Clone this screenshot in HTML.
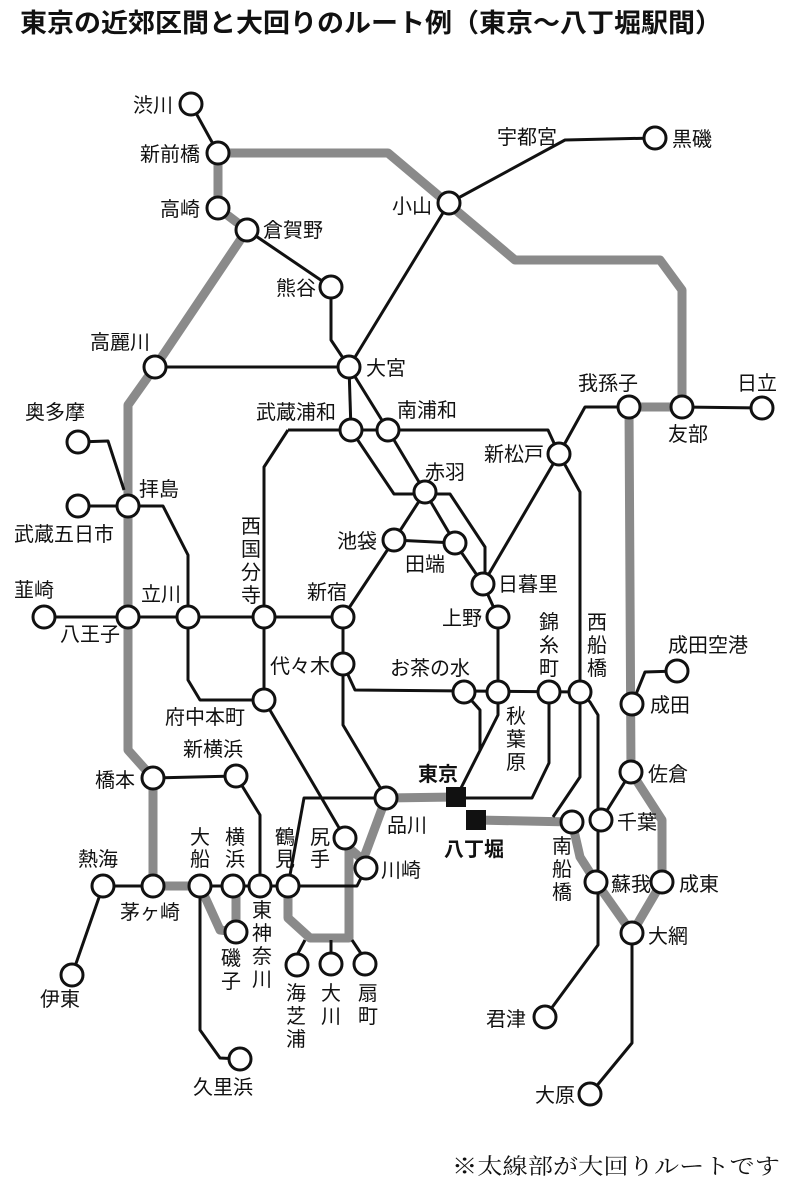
<!DOCTYPE html>
<html><head><meta charset="utf-8"><style>
html,body{margin:0;padding:0;background:#fff;}
svg{display:block;}
text{font-family:"Liberation Sans","Noto Sans CJK JP",sans-serif;font-size:20px;fill:#111;}
.t{font-weight:bold;font-size:26px;}
.f{font-family:"Liberation Serif","Noto Serif CJK SC",serif;font-size:22px;}
.b{font-weight:bold;}
.g{stroke:#8a8a8a;stroke-width:9;fill:none;stroke-linejoin:round;}
.k{stroke:#111;stroke-width:3;fill:none;stroke-linejoin:round;}
circle{fill:#fff;stroke:#111;stroke-width:3;}
</style></head><body>
<svg width="808" height="1186" viewBox="0 0 808 1186">
<text class="t" x="20" y="32" textLength="702" lengthAdjust="spacingAndGlyphs">東京の近郊区間と大回りのルート例（東京〜八丁堀駅間）</text>
<text class="f" x="452" y="1174" textLength="328" lengthAdjust="spacingAndGlyphs">※太線部が大回りルートです</text>

<polyline class="g" points="218,153 388,153 515,260 660,260 682,290 682,407 629,407 631,772 662,820 662,882 632,933 596,882 580,857 572,822 476,820"/>
<polyline class="g" points="456,797 386,798 363,860 349,848 349,938 310,938 288,918 288,886"/>
<polyline class="g" points="218,153 218,208 247,230 155,367 128,405 128,750 153,778 153,886 200,886 220,930 236,932 236,886"/>

<g class="k">
<polyline points="191,104 218,153"/>
<polyline points="247,230 331,287 331,340 349,367"/>
<polyline points="155,367 349,367"/>
<polyline points="349,367 449,203 565,140 655,138"/>
<polyline points="349,367 351,430"/>
<polyline points="349,367 388,430 425,492 455,543 483,584"/>
<polyline points="351,430 394,494 450,494 485,547 485,584"/>
<polyline points="288,430 548,430 559,454"/>
<polyline points="288,430 264,467 264,700 345,838"/>
<polyline points="559,454 585,407 629,407"/>
<polyline points="682,407 762,408"/>
<polyline points="559,454 483,584"/>
<polyline points="559,454 580,492 580,692 590,702 598,715 598,945 545,1017"/>
<polyline points="580,692 580,777 553,817"/>
<polyline points="601,820 631,772"/>
<polyline points="632,704 645,672 677,671"/>
<polyline points="632,933 632,1043 590,1094"/>
<polyline points="425,492 394,540 343,617 343,725 384,794"/>
<polyline points="394,540 455,543"/>
<polyline points="483,584 498,617 498,715 460,790"/>
<polyline points="343,664 355,690 580,692"/>
<polyline points="464,692 480,710 480,750"/>
<polyline points="549,692 549,763 532,798 466,798"/>
<polyline points="78,442 108,441 124,490"/>
<polyline points="78,506 163,506 188,555 188,680 200,700 264,700"/>
<polyline points="44,617 343,617"/>
<polyline points="153,778 236,776 260,815 260,886"/>
<polyline points="72,975 103,886 153,886"/>
<polyline points="200,886 200,1030 220,1058 240,1059"/>
<polyline points="200,886 288,886 357,886 366,868"/>
<polyline points="288,886 304,798 386,798"/>
<polyline points="305,940 297,955"/>
<polyline points="331,940 331,955"/>
<polyline points="352,940 362,955"/>
</g>

<g>
<circle cx="191" cy="104" r="11"/><circle cx="218" cy="153" r="11"/><circle cx="218" cy="208" r="11"/>
<circle cx="247" cy="230" r="11"/><circle cx="331" cy="287" r="11"/><circle cx="155" cy="367" r="11"/>
<circle cx="349" cy="367" r="11"/><circle cx="449" cy="203" r="11"/><circle cx="655" cy="138" r="11"/>
<circle cx="629" cy="407" r="11"/><circle cx="682" cy="407" r="11"/><circle cx="762" cy="408" r="11"/>
<circle cx="351" cy="430" r="11"/><circle cx="388" cy="430" r="11"/><circle cx="78" cy="442" r="11"/>
<circle cx="78" cy="506" r="11"/><circle cx="128" cy="506" r="11"/><circle cx="559" cy="454" r="11"/>
<circle cx="425" cy="492" r="11"/><circle cx="394" cy="540" r="11"/><circle cx="455" cy="543" r="11"/>
<circle cx="483" cy="584" r="11"/><circle cx="498" cy="617" r="11"/>
<circle cx="44" cy="617" r="11"/><circle cx="128" cy="617" r="11"/><circle cx="188" cy="617" r="11"/>
<circle cx="264" cy="617" r="11"/><circle cx="343" cy="617" r="11"/><circle cx="343" cy="664" r="11"/>
<circle cx="264" cy="700" r="11"/><circle cx="464" cy="692" r="11"/><circle cx="498" cy="692" r="11"/>
<circle cx="549" cy="692" r="11"/><circle cx="580" cy="692" r="11"/><circle cx="632" cy="704" r="11"/>
<circle cx="677" cy="671" r="11"/><circle cx="631" cy="772" r="11"/><circle cx="386" cy="798" r="11"/>
<circle cx="572" cy="822" r="11"/><circle cx="601" cy="820" r="11"/><circle cx="596" cy="882" r="11"/>
<circle cx="662" cy="882" r="11"/><circle cx="632" cy="933" r="11"/><circle cx="545" cy="1017" r="11"/>
<circle cx="590" cy="1094" r="11"/><circle cx="153" cy="778" r="11"/><circle cx="236" cy="776" r="11"/>
<circle cx="103" cy="886" r="11"/><circle cx="153" cy="886" r="11"/><circle cx="200" cy="886" r="11"/>
<circle cx="233" cy="886" r="11"/><circle cx="260" cy="886" r="11"/><circle cx="288" cy="886" r="11"/>
<circle cx="345" cy="838" r="11"/><circle cx="366" cy="868" r="11"/><circle cx="236" cy="932" r="11"/>
<circle cx="297" cy="965" r="11"/><circle cx="331" cy="964" r="11"/><circle cx="365" cy="964" r="11"/>
<circle cx="72" cy="975" r="11"/><circle cx="240" cy="1059" r="11"/>
</g>
<rect x="446" y="787" width="20" height="20" fill="#111"/>
<rect x="466" y="810" width="20" height="20" fill="#111"/>

<text x="133" y="112">渋川</text>
<text x="140" y="161">新前橋</text>
<text x="160" y="216">高崎</text>
<text x="263" y="237">倉賀野</text>
<text x="276" y="295">熊谷</text>
<text x="90" y="349">高麗川</text>
<text x="366" y="375">大宮</text>
<text x="392" y="213">小山</text>
<text x="497" y="144">宇都宮</text>
<text x="672" y="146">黒磯</text>
<text x="256" y="419">武蔵浦和</text>
<text x="397" y="417">南浦和</text>
<text x="25" y="419">奥多摩</text>
<text x="139" y="496">拝島</text>
<text x="14" y="541">武蔵五日市</text>
<text x="425" y="479">赤羽</text>
<text x="337" y="548">池袋</text>
<text x="405" y="571">田端</text>
<text x="484" y="461">新松戸</text>
<text x="578" y="390">我孫子</text>
<text x="737" y="390">日立</text>
<text x="668" y="441">友部</text>
<text x="307" y="599">新宿</text>
<text x="498" y="591">日暮里</text>
<text x="442" y="625">上野</text>
<text x="668" y="652">成田空港</text>
<text x="650" y="712">成田</text>
<text x="14" y="597">韮崎</text>
<text x="60" y="641">八王子</text>
<text x="141" y="601">立川</text>
<text x="270" y="673">代々木</text>
<text x="390" y="675">お茶の水</text>
<text x="165" y="724">府中本町</text>
<text x="183" y="756">新横浜</text>
<text x="95" y="787">橋本</text>
<text class="b" x="418" y="781">東京</text>
<text class="b" x="444" y="856">八丁堀</text>
<text x="387" y="832">品川</text>
<text x="617" y="829">千葉</text>
<text x="648" y="781">佐倉</text>
<text x="611" y="891">蘇我</text>
<text x="679" y="891">成東</text>
<text x="648" y="943">大網</text>
<text x="78" y="866">熱海</text>
<text x="120" y="919">茅ヶ崎</text>
<text x="381" y="877">川崎</text>
<text x="40" y="1006">伊東</text>
<text x="193" y="1094">久里浜</text>
<text x="486" y="1026">君津</text>
<text x="535" y="1102">大原</text>

<g text-anchor="middle">
<text x="251" y="533">西</text><text x="251" y="556">国</text><text x="251" y="579">分</text><text x="251" y="602">寺</text>
<text x="549" y="629">錦</text><text x="549" y="652">糸</text><text x="549" y="675">町</text>
<text x="597" y="629">西</text><text x="597" y="652">船</text><text x="597" y="675">橋</text>
<text x="516" y="723">秋</text><text x="516" y="746">葉</text><text x="516" y="769">原</text>
<text x="562" y="853">南</text><text x="562" y="876">船</text><text x="562" y="899">橋</text>
<text x="200" y="844">大</text><text x="200" y="866">船</text>
<text x="235" y="844">横</text><text x="235" y="866">浜</text>
<text x="285" y="844">鶴</text><text x="285" y="866">見</text>
<text x="320" y="844">尻</text><text x="320" y="866">手</text>
<text x="262" y="917">東</text><text x="262" y="940">神</text><text x="262" y="963">奈</text><text x="262" y="986">川</text>
<text x="231" y="965">磯</text><text x="231" y="988">子</text>
<text x="296" y="1000">海</text><text x="296" y="1023">芝</text><text x="296" y="1046">浦</text>
<text x="331" y="1000">大</text><text x="331" y="1023">川</text>
<text x="368" y="1000">扇</text><text x="368" y="1023">町</text>
</g>
</svg>
</body></html>
